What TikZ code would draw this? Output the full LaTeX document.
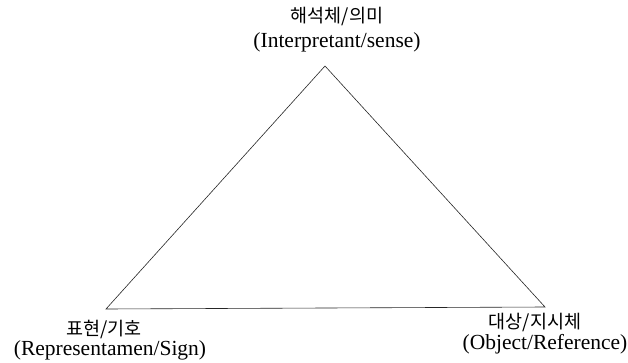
\documentclass[tikz,border=0pt]{standalone}
\usepackage{fontspec}
\setmainfont{Liberation Serif}
\newfontfamily\korfont{Noto Sans CJK KR}
\begin{document}
\begin{tikzpicture}[
    x=1pt,
    y=1pt,
    lado/.style={line width=0.6pt,black!85},
    etiq/.style={inner sep=0pt,font=\fontsize{21.5}{24}\selectfont},
    etiqk/.style={inner sep=0pt,font=\korfont\fontsize{18.5}{21}\selectfont}
]
    \useasboundingbox (0,0) rectangle (628,362);

    % Vertices
    \coordinate (interp) at (325,296);
    \coordinate (repr) at (106,53);
    \coordinate (objeto) at (545,55);
    \draw[lado] (interp) -- (repr) -- (objeto) -- cycle;

    % Etiquetas
    \node[etiqk] (interpk) at (337,345) {해석체/의미};
    \node[etiq] (interpe) at (337,320) {(Interpretant/sense)};
    \node[etiqk] (reprk) at (104,32) {표현/기호};
    \node[etiq] (repre) at (110,12) {(Representamen/Sign)};
    \node[etiqk] (objetok) at (535,39) {대상/지시체};
    \node[etiq] (objetoe) at (545,18) {(Object/Reference)};
\end{tikzpicture}
\end{document}
